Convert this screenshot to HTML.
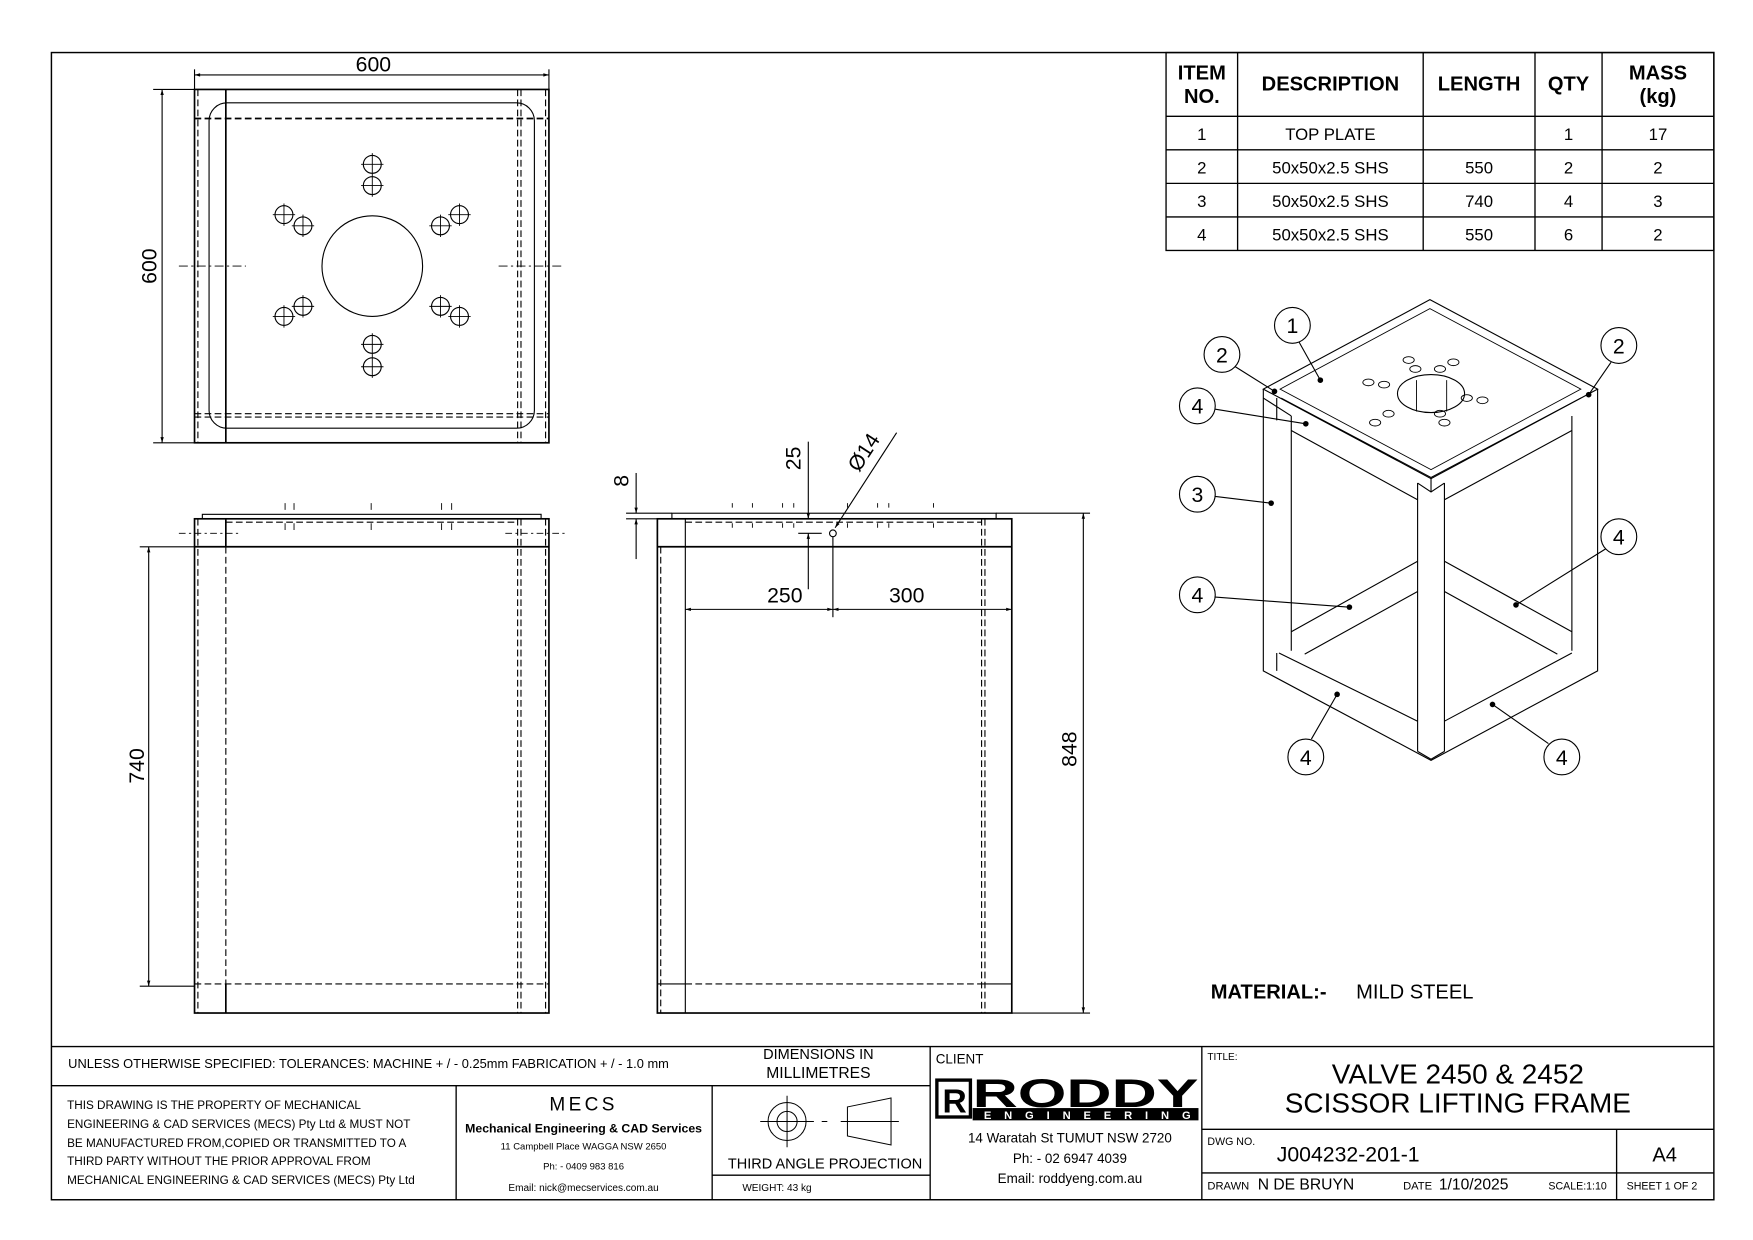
<!DOCTYPE html>
<html><head><meta charset="utf-8"><style>
html,body{margin:0;padding:0;background:#fff;}
svg{display:block;}
text{font-family:"Liberation Sans",sans-serif;fill:#000;}
</style></head><body>
<svg width="1753" height="1240" viewBox="0 0 1568 1109" preserveAspectRatio="none" xmlns="http://www.w3.org/2000/svg">
<defs>
<marker id="ar" viewBox="0 0 10 10" refX="10" refY="5" markerWidth="9" markerHeight="5" orient="auto-start-reverse" markerUnits="userSpaceOnUse"><path d="M0,2 L10,5 L0,8 z" fill="#000"/></marker>
</defs>
<rect x="0" y="0" width="1568" height="1109" fill="#fff"/>
<rect x="46" y="47" width="1487" height="1026" fill="none" stroke="#000" stroke-width="1.3"/>

<!-- TOP VIEW -->
<g fill="none" stroke="#000" stroke-width="1">
<rect x="174" y="80" width="317" height="316" stroke-width="1.5"/>
<line x1="202" y1="80" x2="202" y2="396" stroke-width="1.5"/>
<line x1="174" y1="106" x2="491" y2="106" stroke-width="1.5" stroke-dasharray="6,3"/>
<line x1="174" y1="370" x2="491" y2="370" stroke-dasharray="6,3"/>
<line x1="174" y1="373" x2="491" y2="373" stroke-dasharray="6,3"/>
<line x1="177" y1="80" x2="177" y2="396" stroke-dasharray="6,3"/>
<line x1="463" y1="80" x2="463" y2="396" stroke-dasharray="6,3"/>
<line x1="466" y1="80" x2="466" y2="396" stroke-dasharray="6,3"/>
<line x1="488" y1="80" x2="488" y2="396" stroke-dasharray="6,3"/>
<rect x="187" y="92" width="291" height="291" rx="16"/>
<circle cx="333" cy="238" r="45"/>
<circle cx="333" cy="147" r="8"/><circle cx="333" cy="166" r="8"/>
<circle cx="254" cy="192" r="8"/><circle cx="271" cy="202" r="8"/>
<circle cx="411" cy="192" r="8"/><circle cx="394" cy="202" r="8"/>
<circle cx="254" cy="283" r="8"/><circle cx="271" cy="274" r="8"/>
<circle cx="394" cy="274" r="8"/><circle cx="411" cy="283" r="8"/>
<circle cx="333" cy="308" r="8"/><circle cx="333" cy="328" r="8"/>
<path d="M323 147h20M333 137v20M323 166h20M333 156v20M244 192h20M254 182v20M261 202h20M271 192v20M401 192h20M411 182v20M384 202h20M394 192v20M244 283h20M254 273v20M261 274h20M271 264v20M384 274h20M394 264v20M401 283h20M411 273v20M323 308h20M333 298v20M323 328h20M333 318v20" stroke-width="0.8"/>
<line x1="160" y1="238" x2="220" y2="238" stroke-dasharray="8,3,2,3" stroke-width="0.8"/>
<line x1="446" y1="238" x2="505" y2="238" stroke-dasharray="8,3,2,3" stroke-width="0.8"/>
<line x1="174" y1="62" x2="174" y2="80"/><line x1="491" y1="62" x2="491" y2="80"/>
<line x1="174" y1="67" x2="491" y2="67" marker-start="url(#ar)" marker-end="url(#ar)"/>
<line x1="137" y1="80" x2="174" y2="80"/><line x1="137" y1="396" x2="174" y2="396"/>
<line x1="145" y1="80" x2="145" y2="396" marker-start="url(#ar)" marker-end="url(#ar)"/>
</g>
<text x="334" y="64" font-size="19" text-anchor="middle">600</text>
<text transform="translate(140,238) rotate(-90)" font-size="19" text-anchor="middle">600</text>

<!-- FRONT VIEW -->
<g fill="none" stroke="#000" stroke-width="1">
<rect x="174" y="464" width="317" height="442" stroke-width="1.5"/>
<rect x="181" y="460" width="303" height="4"/>
<line x1="174" y1="489" x2="491" y2="489" stroke-width="1.5"/>
<line x1="202" y1="464" x2="202" y2="489" stroke-width="1.5"/>
<line x1="202" y1="489" x2="202" y2="906" stroke-dasharray="6,3"/>
<line x1="177" y1="464" x2="177" y2="906" stroke-dasharray="6,3"/>
<line x1="463" y1="464" x2="463" y2="906" stroke-dasharray="6,3"/>
<line x1="466" y1="464" x2="466" y2="906" stroke-dasharray="6,3"/>
<line x1="488" y1="464" x2="488" y2="906" stroke-dasharray="6,3"/>
<line x1="174" y1="880" x2="491" y2="880" stroke-dasharray="6,3"/>
<line x1="202" y1="880" x2="202" y2="906" stroke-width="1.5"/>
<line x1="202" y1="467" x2="463" y2="467" stroke-dasharray="6,3"/>
<path d="M255 450v6M255 468v6M263 450v6M263 468v6M332 450v6M332 468v6M395 450v6M395 468v6M404 450v6M404 468v6" stroke-width="0.8"/>
<line x1="160" y1="477" x2="215" y2="477" stroke-dasharray="6,3,2,3" stroke-width="0.8"/>
<line x1="452" y1="477" x2="505" y2="477" stroke-dasharray="6,3,2,3" stroke-width="0.8"/>
<line x1="125" y1="489" x2="174" y2="489"/><line x1="125" y1="882" x2="174" y2="882"/>
<line x1="133" y1="489" x2="133" y2="882" marker-start="url(#ar)" marker-end="url(#ar)"/>
</g>
<text transform="translate(129,685) rotate(-90)" font-size="19" text-anchor="middle">740</text>

<!-- SIDE VIEW -->
<g fill="none" stroke="#000" stroke-width="1">
<rect x="588" y="464" width="317" height="442" stroke-width="1.5"/>
<rect x="601" y="459" width="290" height="5"/>
<line x1="588" y1="489" x2="905" y2="489" stroke-width="1.5"/>
<line x1="613" y1="464" x2="613" y2="906"/>
<line x1="591" y1="489" x2="591" y2="906" stroke-dasharray="6,3"/>
<line x1="878" y1="464" x2="878" y2="906" stroke-dasharray="6,3"/>
<line x1="881" y1="464" x2="881" y2="906" stroke-dasharray="6,3"/>
<line x1="613" y1="880" x2="878" y2="880" stroke-dasharray="6,3"/>
<line x1="588" y1="880" x2="613" y2="880"/><line x1="878" y1="880" x2="905" y2="880"/>
<line x1="613" y1="467" x2="878" y2="467" stroke-dasharray="6,3"/>
<path d="M655 450v4M655 468v4M673 450v4M673 468v4M700 450v4M700 468v4M710 450v4M710 468v4M758 450v4M758 468v4M785 450v4M785 468v4M795 450v4M795 468v4M835 450v4M835 468v4" stroke-width="0.8"/>
<circle cx="745" cy="477" r="3"/>
<line x1="891" y1="459" x2="975" y2="459"/><line x1="905" y1="906" x2="975" y2="906"/>
<line x1="969" y1="459" x2="969" y2="906" marker-start="url(#ar)" marker-end="url(#ar)"/>
<line x1="560" y1="459" x2="601" y2="459"/><line x1="560" y1="464" x2="588" y2="464"/>
<line x1="569" y1="423" x2="569" y2="459" marker-end="url(#ar)"/>
<line x1="569" y1="464" x2="569" y2="500" marker-start="url(#ar)"/>
<line x1="723" y1="395" x2="723" y2="464" marker-end="url(#ar)"/>
<line x1="723" y1="477" x2="723" y2="527" marker-start="url(#ar)"/>
<line x1="714" y1="477" x2="735" y2="477"/>
<line x1="747" y1="472" x2="802" y2="387" marker-start="url(#ar)"/>
<line x1="745" y1="480" x2="745" y2="552"/>
<line x1="613" y1="545" x2="745" y2="545" marker-start="url(#ar)" marker-end="url(#ar)"/>
<line x1="745" y1="545" x2="905" y2="545" marker-start="url(#ar)" marker-end="url(#ar)"/>
</g>
<text transform="translate(963,670) rotate(-90)" font-size="19" text-anchor="middle">848</text>
<text transform="translate(562,430) rotate(-90)" font-size="19" text-anchor="middle">8</text>
<text transform="translate(716,410) rotate(-90)" font-size="19" text-anchor="middle">25</text>
<text transform="translate(778,408) rotate(-57)" font-size="19" text-anchor="middle">Ø14</text>
<text x="702" y="539" font-size="19" text-anchor="middle">250</text>
<text x="811" y="539" font-size="19" text-anchor="middle">300</text>

<!-- PARTS TABLE -->
<g fill="none" stroke="#000" stroke-width="1.2">
<rect x="1043" y="47" width="490" height="177"/>
<path d="M1043 104H1533M1043 134H1533M1043 164H1533M1043 194H1533M1107 47V224M1273 47V224M1373 47V224M1433 47V224"/>
</g>
<g font-size="18" font-weight="bold" text-anchor="middle">
<text x="1075" y="71">ITEM</text><text x="1075" y="92">NO.</text>
<text x="1190" y="81">DESCRIPTION</text>
<text x="1323" y="81">LENGTH</text>
<text x="1403" y="81">QTY</text>
<text x="1483" y="71">MASS</text><text x="1483" y="92">(kg)</text>
</g>
<g font-size="15" text-anchor="middle">
<text x="1075" y="125">1</text><text x="1190" y="125">TOP PLATE</text><text x="1403" y="125">1</text><text x="1483" y="125">17</text>
<text x="1075" y="155">2</text><text x="1190" y="155">50x50x2.5 SHS</text><text x="1323" y="155">550</text><text x="1403" y="155">2</text><text x="1483" y="155">2</text>
<text x="1075" y="185">3</text><text x="1190" y="185">50x50x2.5 SHS</text><text x="1323" y="185">740</text><text x="1403" y="185">4</text><text x="1483" y="185">3</text>
<text x="1075" y="215">4</text><text x="1190" y="215">50x50x2.5 SHS</text><text x="1323" y="215">550</text><text x="1403" y="215">6</text><text x="1483" y="215">2</text>
</g>

<!-- ISOMETRIC -->
<g fill="none" stroke="#000" stroke-width="1">
<path d="M1279 268 L1429 348 L1280 428 L1130 348 Z"/>
<path d="M1279 276 L1414 348 L1280 420 L1145 348 Z" stroke-width="0.8"/>
<path d="M1146 356 L1280 427 L1414 356" stroke-width="0.8"/>
<path d="M1130 348 V600 L1280 680 L1429 600 V348"/>
<path d="M1268 432 V672 M1292 432 V672 M1268 672 L1280 679 L1292 672 M1268 432 L1280 440 L1292 432 M1280 428 V440"/>
<path d="M1155 372 V582 M1406 372 V582"/>
<path d="M1155 385 L1268 447 M1406 385 L1292 447"/>
<path d="M1144 584 L1268 645 M1292 645 L1406 584"/>
<path d="M1155 565 L1268 502 M1167 585 L1268 529 M1292 502 L1406 565 M1292 529 L1393 585"/>
<path d="M1142 356 V376 M1142 584 V600 M1130 356 L1155 372"/>
<ellipse cx="1280" cy="352" rx="30" ry="17"/>
<path d="M1267 340 V368 M1294 340 V368" stroke-width="0.8"/>
<g stroke-width="0.8">
<ellipse cx="1224" cy="342" rx="5" ry="3"/><ellipse cx="1238" cy="344" rx="5" ry="3"/>
<ellipse cx="1260" cy="322" rx="5" ry="3"/><ellipse cx="1266" cy="330" rx="5" ry="3"/>
<ellipse cx="1288" cy="330" rx="5" ry="3"/><ellipse cx="1300" cy="324" rx="5" ry="3"/>
<ellipse cx="1312" cy="356" rx="5" ry="3"/><ellipse cx="1326" cy="358" rx="5" ry="3"/>
<ellipse cx="1230" cy="378" rx="5" ry="3"/><ellipse cx="1242" cy="370" rx="5" ry="3"/>
<ellipse cx="1288" cy="370" rx="5" ry="3"/><ellipse cx="1292" cy="378" rx="5" ry="3"/>
</g>
<g stroke-width="1">
<circle cx="1156" cy="291" r="16"/><circle cx="1093" cy="317" r="16"/><circle cx="1448" cy="309" r="16"/>
<circle cx="1071" cy="363" r="16"/><circle cx="1071" cy="442" r="16"/><circle cx="1448" cy="480" r="16"/>
<circle cx="1071" cy="532" r="16"/><circle cx="1168" cy="677" r="16"/><circle cx="1397" cy="677" r="16"/>
<path d="M1162 306 L1181 340 M1105 328 L1140 350 M1441 324 L1421 353 M1087 366 L1168 379 M1087 444 L1137 450 M1436 491 L1356 541 M1087 534 L1207 543 M1173 661 L1196 621 M1385 665 L1335 630"/>
</g>
</g>
<g fill="#000">
<circle cx="1181" cy="340" r="2.5"/><circle cx="1140" cy="350" r="2.5"/><circle cx="1421" cy="353" r="2.5"/>
<circle cx="1168" cy="379" r="2.5"/><circle cx="1137" cy="450" r="2.5"/><circle cx="1356" cy="541" r="2.5"/>
<circle cx="1207" cy="543" r="2.5"/><circle cx="1196" cy="621" r="2.5"/><circle cx="1335" cy="630" r="2.5"/>
</g>
<g font-size="19" text-anchor="middle">
<text x="1156" y="298">1</text><text x="1093" y="324">2</text><text x="1448" y="316">2</text>
<text x="1071" y="370">4</text><text x="1071" y="449">3</text><text x="1448" y="487">4</text>
<text x="1071" y="539">4</text><text x="1168" y="684">4</text><text x="1397" y="684">4</text>
</g>
<text x="1083" y="893" font-size="18" font-weight="bold">MATERIAL:-</text>
<text x="1213" y="893" font-size="18">MILD STEEL</text>

<!-- TITLE BLOCK -->
<g fill="none" stroke="#000" stroke-width="1.2">
<line x1="46" y1="936" x2="1533" y2="936"/>
<line x1="46" y1="971" x2="832" y2="971"/>
<line x1="408" y1="971" x2="408" y2="1073"/>
<line x1="637" y1="971" x2="637" y2="1073"/>
<line x1="637" y1="1051" x2="832" y2="1051"/>
<line x1="832" y1="936" x2="832" y2="1073"/>
<line x1="1075" y1="936" x2="1075" y2="1073"/>
<line x1="1075" y1="1010" x2="1533" y2="1010"/>
<line x1="1075" y1="1049" x2="1533" y2="1049"/>
<line x1="1446" y1="1010" x2="1446" y2="1073"/>
</g>
<text x="61" y="955" font-size="11.5">UNLESS OTHERWISE SPECIFIED: TOLERANCES: MACHINE + / - 0.25mm  FABRICATION + / - 1.0 mm</text>
<text x="732" y="947" font-size="13" text-anchor="middle">DIMENSIONS IN</text>
<text x="732" y="964" font-size="14" text-anchor="middle">MILLIMETRES</text>
<g font-size="10.5">
<text x="60" y="992">THIS DRAWING IS THE PROPERTY OF MECHANICAL</text>
<text x="60" y="1009">ENGINEERING &amp; CAD SERVICES (MECS) Pty Ltd &amp; MUST NOT</text>
<text x="60" y="1026">BE MANUFACTURED FROM,COPIED OR TRANSMITTED TO A</text>
<text x="60" y="1042">THIRD PARTY WITHOUT THE PRIOR APPROVAL FROM</text>
<text x="60" y="1059">MECHANICAL ENGINEERING &amp; CAD SERVICES (MECS) Pty Ltd</text>
</g>
<text x="522" y="993" font-size="17" text-anchor="middle" letter-spacing="3">MECS</text>
<text x="522" y="1013" font-size="11" font-weight="bold" text-anchor="middle">Mechanical Engineering &amp; CAD Services</text>
<text x="522" y="1028" font-size="8.5" text-anchor="middle">11 Campbell Place WAGGA NSW 2650</text>
<text x="522" y="1046" font-size="8.5" text-anchor="middle">Ph: - 0409 983 816</text>
<text x="522" y="1065" font-size="9" text-anchor="middle">Email: nick@mecservices.com.au</text>
<g fill="none" stroke="#000" stroke-width="0.9">
<circle cx="704" cy="1003" r="17"/><circle cx="704" cy="1003" r="9"/>
<path d="M680 1003H728M704 980V1026M735 1003h5M758 990 L797 982 V1024 L758 1016 Z M752 1003H804"/>
</g>
<text x="738" y="1045" font-size="13" text-anchor="middle">THIRD ANGLE PROJECTION</text>
<text x="664" y="1065" font-size="9">WEIGHT: 43 kg</text>
<text x="837" y="951" font-size="12">CLIENT</text>
<rect x="838" y="966" width="30" height="33" fill="none" stroke="#000" stroke-width="3"/>
<text x="843" y="995" font-size="30" font-weight="bold">R</text>
<text x="870" y="990" font-size="36" font-weight="bold" textLength="202" lengthAdjust="spacingAndGlyphs">RODDY</text>
<rect x="870" y="991" width="202" height="11" fill="#000"/>
<text x="880" y="1001" font-size="10" font-weight="bold" style="fill:#fff" textLength="185" lengthAdjust="spacing">ENGINEERING</text>
<text x="957" y="1022" font-size="12" text-anchor="middle">14 Waratah St TUMUT NSW 2720</text>
<text x="957" y="1040" font-size="12" text-anchor="middle">Ph: - 02 6947 4039</text>
<text x="957" y="1058" font-size="12" text-anchor="middle">Email: roddyeng.com.au</text>
<text x="1080" y="948" font-size="9">TITLE:</text>
<text x="1304" y="969" font-size="25" text-anchor="middle">VALVE 2450 &amp; 2452</text>
<text x="1304" y="995" font-size="25" text-anchor="middle">SCISSOR LIFTING FRAME</text>
<text x="1080" y="1024" font-size="9.5">DWG NO.</text>
<text x="1142" y="1039" font-size="19">J004232-201-1</text>
<text x="1489" y="1039" font-size="18" text-anchor="middle">A4</text>
<text x="1080" y="1064" font-size="10">DRAWN</text>
<text x="1125" y="1064" font-size="14">N DE BRUYN</text>
<text x="1255" y="1064" font-size="10">DATE</text>
<text x="1287" y="1064" font-size="14">1/10/2025</text>
<text x="1385" y="1064" font-size="9.5">SCALE:1:10</text>
<text x="1455" y="1064" font-size="9.5">SHEET 1 OF 2</text>
</svg>
</body></html>
